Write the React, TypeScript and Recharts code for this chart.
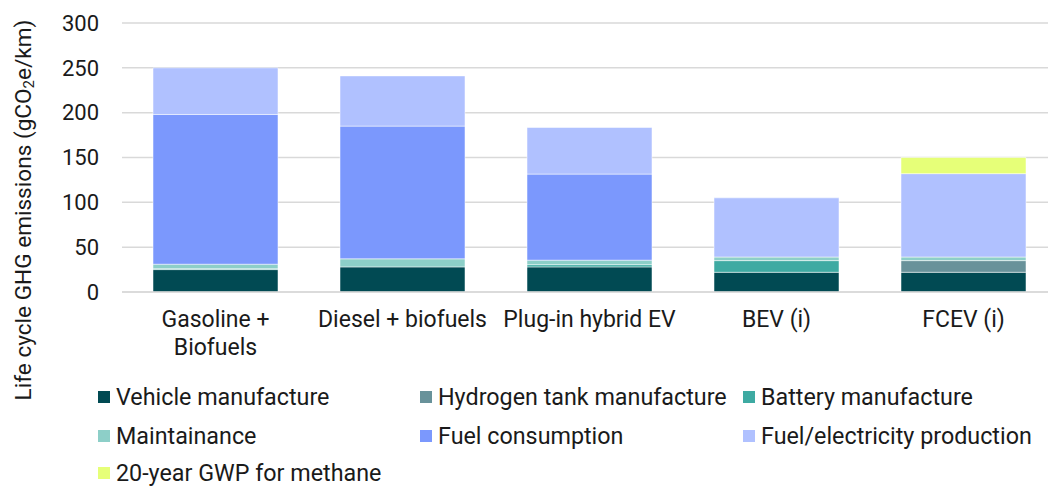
import { Bar, BarChart, CartesianGrid, Legend, XAxis, YAxis } from 'recharts';

const categories = ['Gasoline +\nBiofuels', 'Diesel + biofuels', 'Plug-in hybrid EV', 'BEV (i)', 'FCEV (i)'];
const vehicle = [25, 28, 28, 22, 22];
const hydrogenTank = [0, 0, 0, 0, 13];
const battery = [1, 0, 2.5, 13, 0];
const maintenance = [5, 9, 5, 4, 4];
const fuelConsumption = [167, 148, 96, 0, 0];
const fuelProduction = [52, 56, 52, 66, 93];
const methane = [0, 0, 0, 0, 18];
const yTicks = [0, 50, 100, 150, 200, 250, 300];

const series = [
  { key: 'vehicle', name: 'Vehicle manufacture', color: '#014a53' },
  { key: 'hydrogenTank', name: 'Hydrogen tank manufacture', color: '#68929a' },
  { key: 'battery', name: 'Battery manufacture', color: '#3eaaa2' },
  { key: 'maintenance', name: 'Maintainance', color: '#8dcfc8' },
  { key: 'fuelConsumption', name: 'Fuel consumption', color: '#7b98fd' },
  { key: 'fuelProduction', name: 'Fuel/electricity production', color: '#b0c1ff' },
  { key: 'methane', name: '20-year GWP for methane', color: '#e6ff78' },
];

const data = categories.map((name, i) => ({
  name,
  vehicle: vehicle[i],
  hydrogenTank: hydrogenTank[i],
  battery: battery[i],
  maintenance: maintenance[i],
  fuelConsumption: fuelConsumption[i],
  fuelProduction: fuelProduction[i],
  methane: methane[i],
}));

const FONT = 'Roboto, sans-serif';
const TEXT = '#1a1a1a';

// legend is laid out in a 3-column grid like the original
const legendCols = [98, 420, 743];
const legendRows = [25, 64, 101];

function GridLegend() {
  return (
    <div style={{ position: 'relative', width: 1048, height: 114, fontFamily: FONT, fontSize: 23.3, color: TEXT }}>
      {series.map((s, i) => (
        <div
          key={s.key}
          style={{
            position: 'absolute',
            left: legendCols[i % 3],
            top: legendRows[Math.floor(i / 3)] - 14,
            height: 28,
            display: 'flex',
            alignItems: 'center',
            whiteSpace: 'nowrap',
          }}
        >
          <span style={{ width: 12, height: 12, background: s.color, marginRight: 6, display: 'inline-block' }} />
          <span>{s.name}</span>
        </div>
      ))}
    </div>
  );
}

function CategoryTick(props: any) {
  const { x, y, payload } = props;
  const lines = String(payload.value).split('\n');
  return (
    <text x={x} y={y} textAnchor='middle' fill={TEXT} fontFamily={FONT} fontSize={23}>
      {lines.map((line, i) => (
        <tspan key={i} x={x} dy={i === 0 ? 27 : 28}>
          {line}
        </tspan>
      ))}
    </text>
  );
}

function YTitle() {
  return (
    <text
      x={23}
      y={210}
      transform='rotate(-90 23 210)'
      textAnchor='middle'
      dominantBaseline='central'
      fill={TEXT}
      fontFamily={FONT}
      fontSize={22.6}
    >
      Life cycle GHG emissions (gCO
      <tspan dy={6} fontSize={15}>2</tspan>
      <tspan dy={-6}>e/km)</tspan>
    </text>
  );
}

export default function App() {
  return (
    <div style={{ position: 'absolute', left: 0, top: 0, width: 1048, height: 486, overflow: 'hidden' }}>
      <style>{'body{margin:0}'}</style>
      <BarChart
        width={1057}
        height={486}
        data={data}
        margin={{ top: 23, right: 0, left: 0, bottom: 0 }}
      >
        <CartesianGrid vertical={false} stroke='#d9d9d9' strokeWidth={1.5} />
        <XAxis
          dataKey='name'
          axisLine={{ stroke: '#d9d9d9', strokeWidth: 1.5 }}
          tickLine={false}
          height={80}
          interval={0}
          tick={<CategoryTick />}
        />
        <YAxis
          domain={[0, 300]}
          ticks={yTicks}
          width={122}
          axisLine={false}
          tickLine={false}
          tickMargin={17}
          tick={{ fill: TEXT, fontFamily: FONT, fontSize: 22 }}
        />
        <Legend verticalAlign='bottom' height={114} content={<GridLegend />} wrapperStyle={{ left: 0, width: 1048 }} />
        {series.map((s) => (
          <Bar
            key={s.key}
            dataKey={s.key}
            name={s.name}
            stackId='a'
            fill={s.color}
            barSize={125}
            stroke='#ffffff'
            strokeOpacity={0.5}
            strokeWidth={1}
            isAnimationActive={false}
          />
        ))}
        <YTitle />
      </BarChart>
    </div>
  );
}
